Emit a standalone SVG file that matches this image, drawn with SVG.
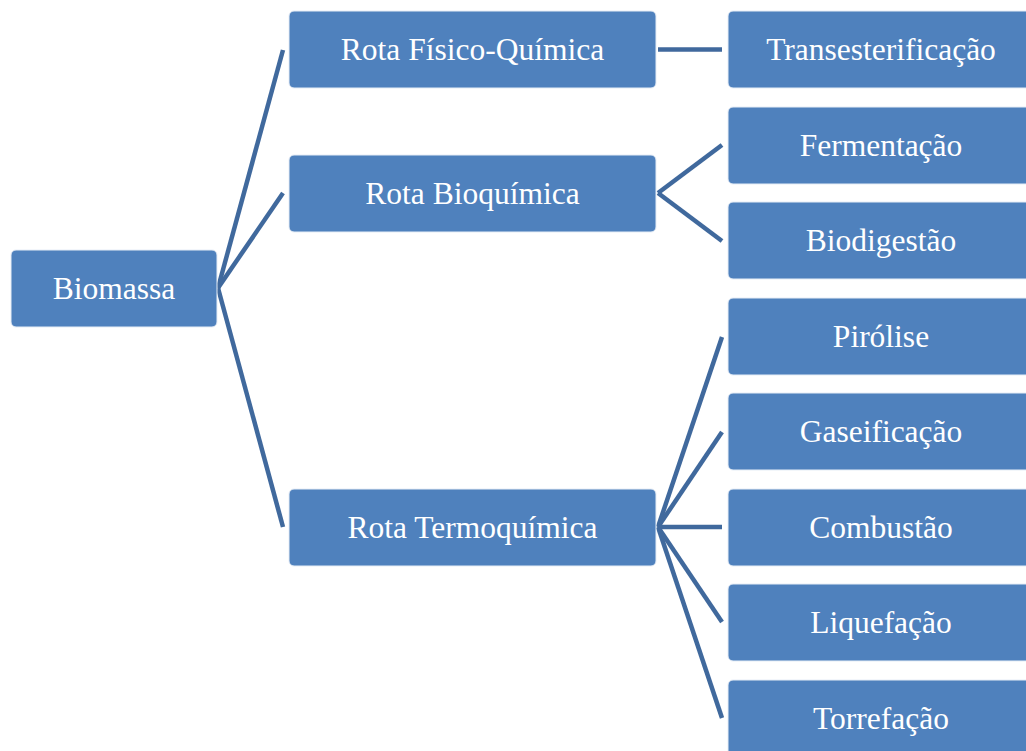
<svg xmlns="http://www.w3.org/2000/svg" width="1026" height="751" viewBox="0 0 1026 751">
<style>
.box{fill:#4F81BD;stroke:#E6EDF6;stroke-width:1}
.lbl{font-family:"Liberation Serif","Times New Roman",serif;font-size:31.5px;fill:#FFFFFF;text-anchor:middle}
.con{stroke:#40699D;stroke-width:4.5;fill:none;stroke-linecap:butt}
</style>
<rect width="1026" height="751" fill="#FFFFFF"/>
<g id="connectors">
<line class="con" x1="218" y1="288" x2="283" y2="50"/>
<line class="con" x1="218" y1="288" x2="283" y2="193"/>
<line class="con" x1="218" y1="288" x2="283" y2="527"/>
<line class="con" x1="658" y1="49.5" x2="722" y2="49.5"/>
<line class="con" x1="658" y1="193" x2="722" y2="145"/>
<line class="con" x1="658" y1="193" x2="722" y2="241"/>
<line class="con" x1="658" y1="527" x2="722" y2="337"/>
<line class="con" x1="658" y1="527" x2="722" y2="432"/>
<line class="con" x1="658" y1="527" x2="722" y2="527"/>
<line class="con" x1="658" y1="527" x2="722" y2="622"/>
<line class="con" x1="658" y1="527" x2="722" y2="718"/>
</g>
<g id="biomassa"><rect class="box" x="11" y="250" width="206" height="77" rx="5"/><text class="lbl" x="114" y="299">Biomassa</text></g>
<g id="rota-fisico-quimica"><rect class="box" x="289" y="11" width="367" height="77" rx="5"/><text class="lbl" x="472.5" y="60">Rota Físico-Química</text></g>
<g id="rota-bioquimica"><rect class="box" x="289" y="155" width="367" height="77" rx="5"/><text class="lbl" x="472.5" y="204">Rota Bioquímica</text></g>
<g id="rota-termoquimica"><rect class="box" x="289" y="489" width="367" height="77" rx="5"/><text class="lbl" x="472.5" y="538">Rota Termoquímica</text></g>
<g id="transesterificacao"><rect class="box" x="728" y="11" width="306" height="77" rx="5"/><text class="lbl" x="881" y="60">Transesterificação</text></g>
<g id="fermentacao"><rect class="box" x="728" y="107" width="306" height="77" rx="5"/><text class="lbl" x="881" y="156">Fermentação</text></g>
<g id="biodigestao"><rect class="box" x="728" y="202" width="306" height="77" rx="5"/><text class="lbl" x="881" y="251">Biodigestão</text></g>
<g id="pirolise"><rect class="box" x="728" y="298" width="306" height="77" rx="5"/><text class="lbl" x="881" y="347">Pirólise</text></g>
<g id="gaseificacao"><rect class="box" x="728" y="393" width="306" height="77" rx="5"/><text class="lbl" x="881" y="442">Gaseificação</text></g>
<g id="combustao"><rect class="box" x="728" y="489" width="306" height="77" rx="5"/><text class="lbl" x="881" y="538">Combustão</text></g>
<g id="liquefacao"><rect class="box" x="728" y="584" width="306" height="77" rx="5"/><text class="lbl" x="881" y="633">Liquefação</text></g>
<g id="torrefacao"><rect class="box" x="728" y="680" width="306" height="77" rx="5"/><text class="lbl" x="881" y="729">Torrefação</text></g>
</svg>
